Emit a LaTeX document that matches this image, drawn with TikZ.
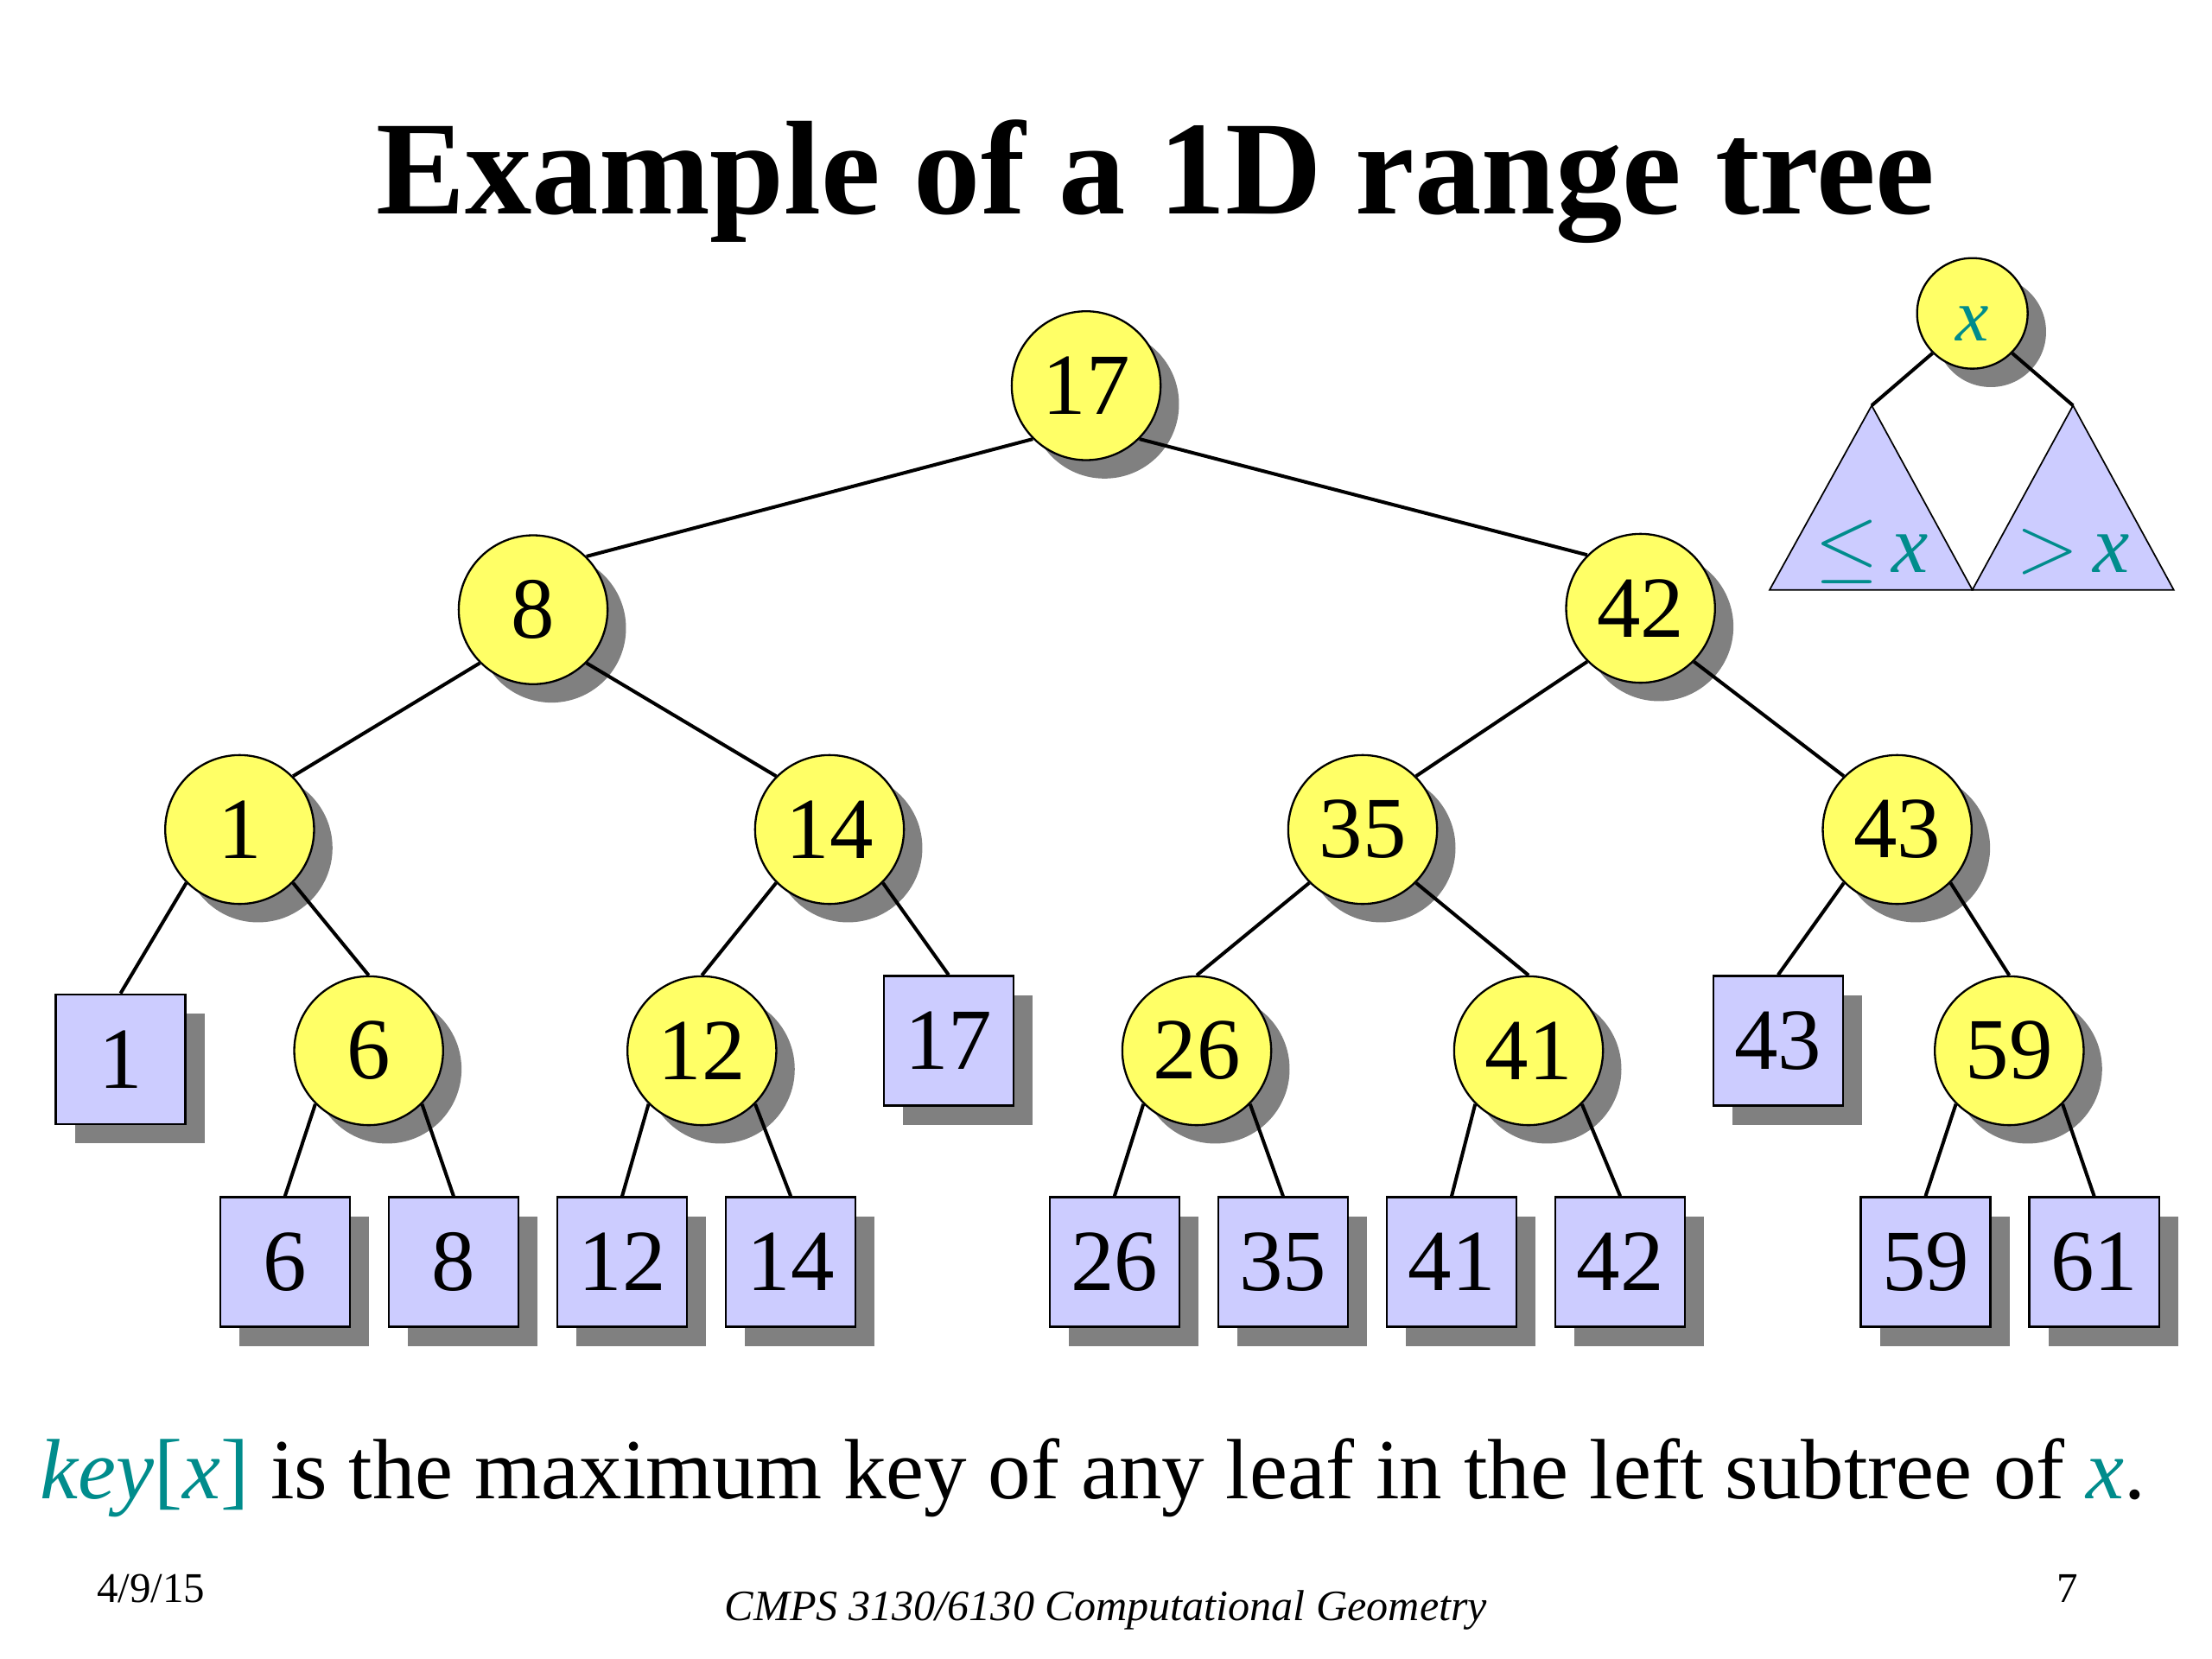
\RequirePackage{fix-cm}
\documentclass[tikz,border=0pt]{standalone}
\usepackage{fontspec}
\setmainfont{Liberation Serif}
\usepackage{xcolor}
\usetikzlibrary{positioning,shadows}
\definecolor{keyyellow}{RGB}{255,255,102}
\definecolor{leafblue}{RGB}{204,204,255}
\definecolor{shadowgray}{RGB}{128,128,128}
\definecolor{keyteal}{RGB}{0,140,140}

\begin{document}
\begin{tikzpicture}[
        x=0.02cm, y=-0.02cm,
        node distance=0.52cm,
        keynode/.style={circle, draw, line width=0.8pt, fill=keyyellow,
            minimum size=2.1cm, inner sep=0pt, font=\fontsize{35}{35}\selectfont,
            drop shadow={shadow xshift=0.26cm, shadow yshift=-0.26cm, fill=shadowgray, opacity=1}},
        leafnode/.style={rectangle, draw, line width=0.8pt, fill=leafblue,
            minimum size=1.83cm, inner sep=0pt, font=\fontsize{35}{35}\selectfont,
            drop shadow={shadow xshift=0.27cm, shadow yshift=-0.27cm, fill=shadowgray, opacity=1}},
        branch/.style={line width=1.4pt}
    ]
        \useasboundingbox[fill=white] (0,0) rectangle (1560,1170);

        % Title
        \node[anchor=base, inner sep=0pt, font=\fontsize{53.6}{54}\selectfont\bfseries] (title) at (815,151) {Example of a 1D range tree};

        % Inner nodes
        \node[keynode] (k17) at (766,272) {17};
        \node[keynode] (k8) at (376,430) {8};
        \node[keynode] (k42) at (1157,429) {42};
        \node[keynode] (k1) at (169,585) {1};
        \node[keynode] (k14) at (585,585) {14};
        \node[keynode] (k35) at (961,585) {35};
        \node[keynode] (k43) at (1338,585) {43};
        \node[keynode] (k6) at (260,741) {6};
        \node[keynode] (k12) at (495,741) {12};
        \node[keynode] (k26) at (844,741) {26};
        \node[keynode] (k41) at (1078,741) {41};
        \node[keynode] (k59) at (1417,741) {59};

        % Leaves
        \node[leafnode] (l1) at (85,747) {1};
        \node[leafnode] (l17) at (669,734) {17};
        \node[leafnode] (l43) at (1254,734) {43};
        \node[leafnode] (l6) at (201,890) {6};
        \node[leafnode, right=of l6] (l8) {8};
        \node[leafnode, right=of l8] (l12) {12};
        \node[leafnode, right=of l12] (l14) {14};
        \node[leafnode] (l26) at (786,890) {26};
        \node[leafnode, right=of l26] (l35) {35};
        \node[leafnode, right=of l35] (l41) {41};
        \node[leafnode, right=of l41] (l42) {42};
        \node[leafnode] (l59) at (1358,890) {59};
        \node[leafnode, right=of l59] (l61) {61};

        % Branches between inner nodes
        \draw[branch] (k17.south west) -- (k8.north east);
        \draw[branch] (k17.south east) -- (k42.north west);
        \draw[branch] (k8.south west) -- (k1.north east);
        \draw[branch] (k8.south east) -- (k14.north west);
        \draw[branch] (k42.south west) -- (k35.north east);
        \draw[branch] (k42.south east) -- (k43.north west);
        \draw[branch] (k1.south east) -- (k6.north);
        \draw[branch] (k14.south west) -- (k12.north);
        \draw[branch] (k35.south west) -- (k26.north);
        \draw[branch] (k35.south east) -- (k41.north);
        \draw[branch] (k43.south east) -- (k59.north);

        % Branches down to the leaves
        \draw[branch] (k1.south west) -- (l1.north);
        \draw[branch] (k14.south east) -- (l17.north);
        \draw[branch] (k43.south west) -- (l43.north);
        \draw[branch] (k6.south west) -- (l6.north);
        \draw[branch] (k6.south east) -- (l8.north);
        \draw[branch] (k12.south west) -- (l12.north);
        \draw[branch] (k12.south east) -- (l14.north);
        \draw[branch] (k26.south west) -- (l26.north);
        \draw[branch] (k26.south east) -- (l35.north);
        \draw[branch] (k41.south west) -- (l41.north);
        \draw[branch] (k41.south east) -- (l42.north);
        \draw[branch] (k59.south west) -- (l59.north);
        \draw[branch] (k59.south east) -- (l61.north);

        % Legend: a node and its two subtrees
        \node[keynode, minimum size=1.56cm] (kx) at (1391,221) {};
        \node[text=keyteal, font=\fontsize{30}{30}\selectfont\itshape] (kxlabel) at ([yshift=-0.15cm]kx.center) {x};
        \coordinate (lapex) at (1320,286);
        \coordinate (rapex) at (1462,286);
        \draw[line width=0.6pt, fill=leafblue] (lapex) -- (1391,416) -- (1248,416) -- cycle;
        \draw[line width=0.6pt, fill=leafblue] (rapex) -- (1533,416) -- (1391,416) -- cycle;
        \draw[branch] (kx.south west) -- (lapex);
        \draw[branch] (kx.south east) -- (rapex);
        \node[anchor=base, inner sep=0pt, text=keyteal, font=\fontsize{33}{33}\selectfont] (lelabel) at (1320,404) {$\leq$\,\textit{x}};
        \node[anchor=base, inner sep=0pt, text=keyteal, font=\fontsize{33}{33}\selectfont] (gtlabel) at (1462,404) {$>$\,\textit{x}};

        % Caption
        \node[anchor=base west, inner sep=0pt, font=\fontsize{34.35}{35}\selectfont] (caption) at (28,1057)
            {\textcolor{keyteal}{\textit{key}[\textit{x}]} is the maximum key of any leaf in the left subtree of \textcolor{keyteal}{\textit{x}}.};

        % Footer
        \node[anchor=base west, inner sep=0pt, font=\fontsize{17}{17}\selectfont] (date) at (68,1130) {4/9/15};
        \node[anchor=base, inner sep=0pt, font=\fontsize{17.4}{18}\selectfont\itshape] (course) at (780,1143) {CMPS 3130/6130 Computational Geometry};
        \node[anchor=base east, inner sep=0pt, font=\fontsize{17}{17}\selectfont] (page) at (1466,1130) {7};
    \end{tikzpicture}
\end{document}
